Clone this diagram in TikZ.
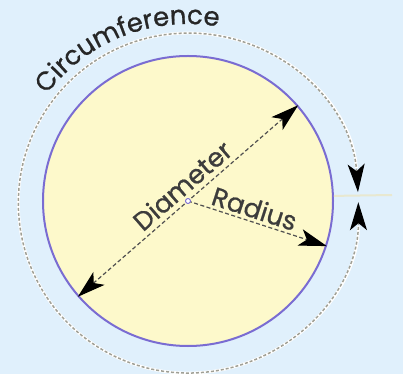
\documentclass[tikz,border=0pt]{standalone}
\usepackage{fontspec}
\newfontfamily\labelfont[FakeBold=0.8]{Poppins}
\usetikzlibrary{arrows.meta,decorations.text}
\definecolor{skyback}{RGB}{224,240,252}
\definecolor{discfill}{RGB}{253,249,203}
\definecolor{rimpurple}{RGB}{122,108,210}
\definecolor{guidegray}{RGB}{80,80,80}
\definecolor{dashgray}{RGB}{160,160,150}
\definecolor{labelgray}{RGB}{60,60,60}
\tikzset{
  disc/.style={circle, draw=rimpurple, line width=2pt, fill=discfill, minimum size=290pt, inner sep=0pt},
  guide/.style={draw=guidegray, line width=1.2pt, dash pattern=on 4pt off 2.5pt},
  rimunder/.style={draw=white, line width=2.8pt},
  rimline/.style={<->, draw=dashgray, line width=1.5pt, dash pattern=on 3pt off 2pt},
  tickline/.style={draw={rgb,255:red,232;green,232;blue,208}, line width=2pt},
  measlabel/.style={font=\labelfont\fontsize{26}{26}\selectfont, text=labelgray, inner sep=2pt}
}
\begin{document}
\begin{tikzpicture}[x=1pt, y=1pt, >={Stealth[length=28pt, width=17pt, inset=7pt, color=black]}]
  \fill[skyback] (-188,-173) rectangle (215,201);
  \useasboundingbox (-188,-173) rectangle (215,201);
  \node[disc] (disc) at (0,0) {};
  \node[circle, minimum size=340pt, inner sep=0pt] (rim) at (0,0) {};
  \coordinate (tickend) at (204,6);
  \draw[tickline] (disc.2.4) -- (tickend);
  \draw[rimunder, shorten <=24pt, shorten >=24pt] (rim.3.7) arc[start angle=3.7, end angle=360.3, radius=170pt];
  \draw[rimline] (rim.3.7) arc[start angle=3.7, end angle=360.3, radius=170pt];
  \path[decorate, decoration={text along path, text align=fit to path,
    text={|\labelfont\fontsize{26}{26}\selectfont\color{black!85}|Circumference}}]
    (143:177) arc[start angle=143, end angle=81, radius=177pt];
  \draw[guide, <->] (disc.221.5) -- (disc.41.5)
    node[measlabel, pos=0.52, sloped, above=3pt] {Diameter};
  \draw[guide, ->] (disc.center) -- (disc.-18)
    node[measlabel, pos=0.45, sloped, above=1pt] {Radius};
  \node[circle, draw=rimpurple, fill=white, line width=0.9pt, minimum size=5pt, inner sep=0pt] (ctr) at (disc.center) {};
\end{tikzpicture}
\end{document}
